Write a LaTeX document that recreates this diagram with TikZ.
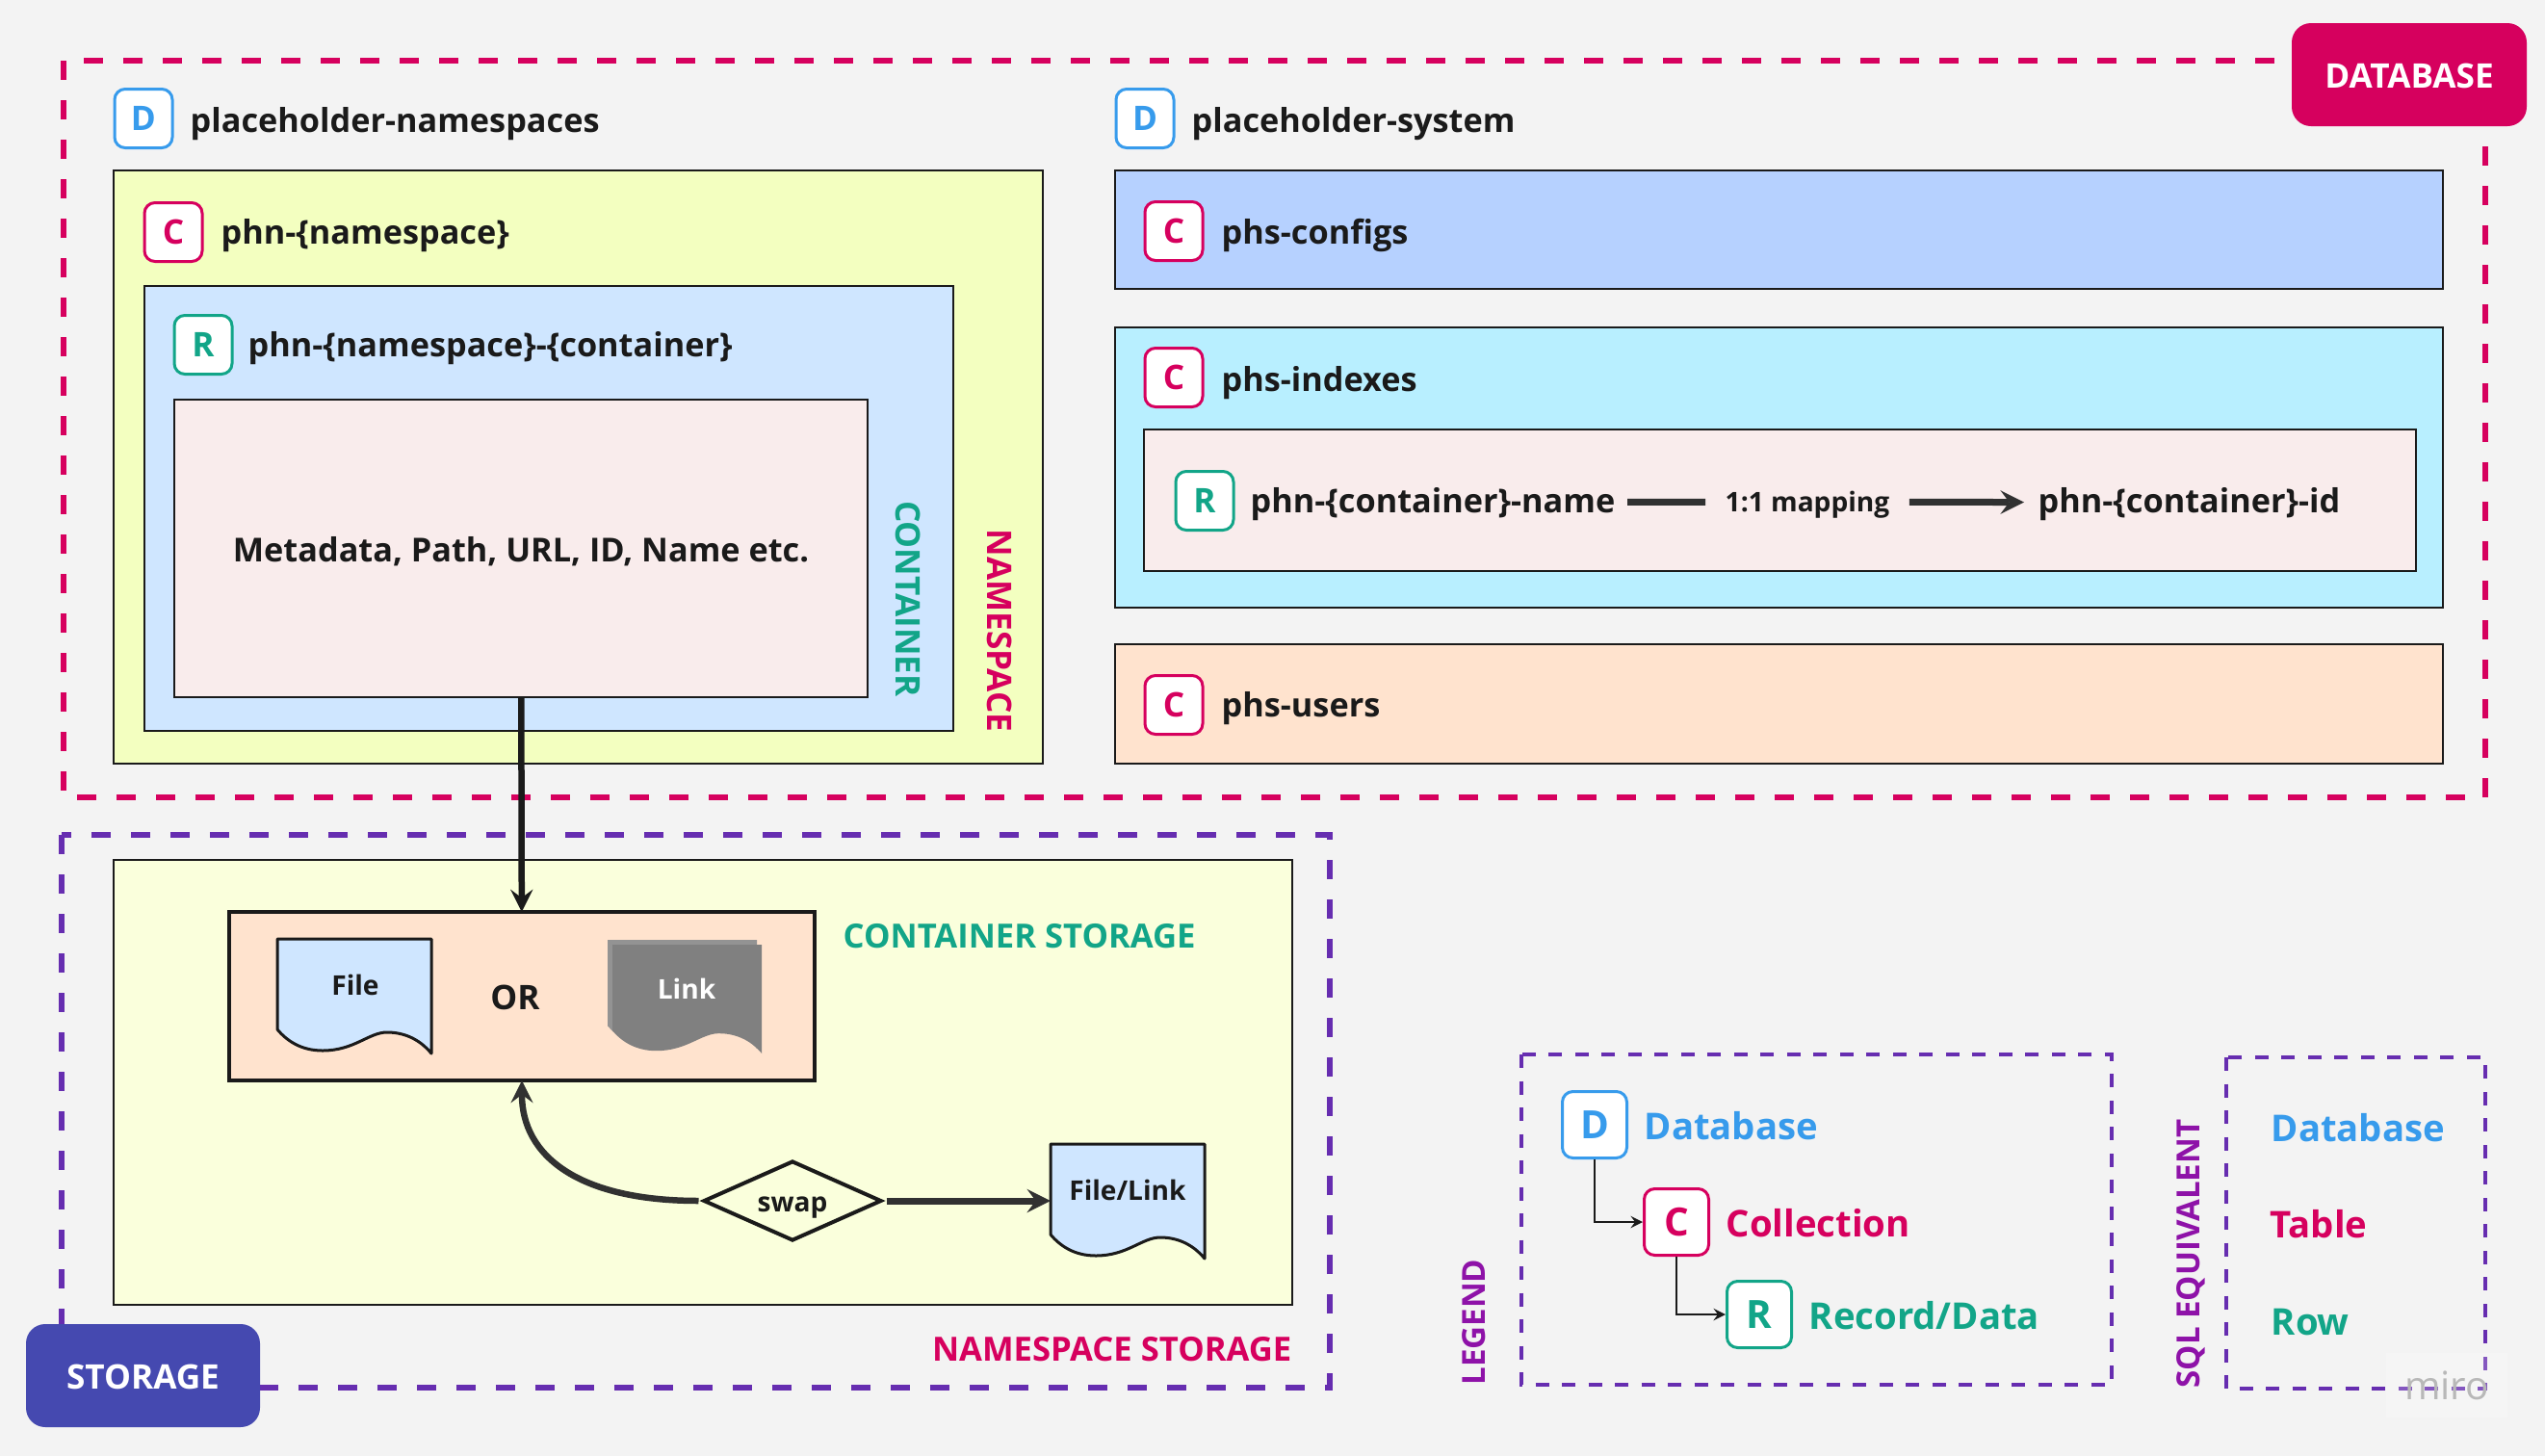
\documentclass[tikz,border=0pt]{standalone}
\usepackage{fontspec}
\setmainfont{Open Sans}
\usetikzlibrary{shapes.geometric, arrows}
\definecolor{pagegrey}{HTML}{F3F3F3}
\definecolor{dbpink}{HTML}{D6005E}
\definecolor{storeviolet}{HTML}{662DB0}
\definecolor{storeblue}{HTML}{4549B0}
\definecolor{sqlpurple}{HTML}{8E12A8}
\definecolor{iconblue}{HTML}{379BEC}
\definecolor{iconteal}{HTML}{12A588}
\definecolor{inkblack}{HTML}{1A1A1A}
\definecolor{nsyellow}{HTML}{F3FFC0}
\definecolor{ctblue}{HTML}{CFE6FF}
\definecolor{metarose}{HTML}{F9ECEC}
\definecolor{cfgblue}{HTML}{B6D1FF}
\definecolor{idxcyan}{HTML}{B8EFFF}
\definecolor{usrpeach}{HTML}{FFE3CE}
\definecolor{storeyellow}{HTML}{FAFFDC}
\definecolor{linkgrey}{HTML}{808080}
\tikzstyle{arrow} = [line width=.065cm,->,>=stealth,draw=inkblack]
\tikzstyle{softarrow} = [arrow,draw=inkblack!90]
\tikzstyle{thinarrow} = [line width=.02cm,->,>=stealth,draw=inkblack]
\tikzstyle{zone} = [line width=.06cm,dash pattern=on .2cm off .21cm]
\tikzstyle{legendzone} = [line width=.04cm,draw=storeviolet,dash pattern=on .14cm off .135cm]
\tikzstyle{box} = [rectangle,draw=inkblack,line width=.02cm,inner sep=0,outer sep=0]
\tikzstyle{tag} = [rectangle,rounded corners=.2cm,inner sep=0,minimum width=2.44cm,minimum height=1.07cm,text=white,text height=.285cm,text depth=0cm,font=\fontsize{10}{12}\selectfont\bfseries]
\tikzstyle{icon} = [rectangle,rounded corners=.11cm,fill=white,line width=.03cm,inner sep=0,minimum width=.6cm,minimum height=.61cm,font=\fontsize{10}{12}\selectfont\bfseries]
\tikzstyle{bigicon} = [icon,minimum width=.67cm,minimum height=.69cm,font=\fontsize{11.5}{14}\selectfont\bfseries]
\tikzstyle{title} = [inner sep=0,anchor=west,text=inkblack,font=\fontsize{9.75}{12}\selectfont\bfseries]
\tikzstyle{maplabel} = [title,text height=.3cm,text depth=.1cm]
\tikzstyle{caption} = [inner sep=0,font=\fontsize{9.85}{12}\selectfont\bfseries]
\tikzstyle{sidecaption} = [inner sep=0,rotate=-90,font=\fontsize{10}{12}\selectfont\bfseries]
\tikzstyle{upcaption} = [inner sep=0,rotate=90,text=sqlpurple,font=\fontsize{9.4}{12}\selectfont\bfseries]
\tikzstyle{legendtext} = [inner sep=0,anchor=west,font=\fontsize{10.9}{14}\selectfont\bfseries]
\tikzstyle{doctext} = [inner sep=0,text=inkblack,font=\fontsize{8}{10}\selectfont\bfseries]
\tikzset{docwave/.pic={
  \path[pic actions,line join=round] (0,0) -- (1.6,0) -- (1.6,-1.19) .. controls (1.47,-1.03) and (1.3,-.97) .. (1.14,-.97) .. controls (.95,-.97) and (.8,-1.16) .. (.47,-1.16) .. controls (.25,-1.16) and (.1,-1.06) .. (0,-.94) -- cycle;
}}
\begin{document}
\begin{tikzpicture}

\useasboundingbox (0,0) rectangle (26.43,-15.12);
\fill[pagegrey] (0,0) rectangle (26.43,-15.12);

% database

\draw[zone,draw=dbpink] (.66,-.63) rectangle (25.81,-8.28);
\node[tag,fill=dbpink] (database) at (25.02,-.775) {DATABASE};

\node[icon,draw=iconblue,text=iconblue] (ns_db) at (1.49,-1.23) {D};
\node[title] (ns_db_name) at (1.97,-1.29) {placeholder-namespaces};

\node[box,fill=nsyellow,minimum width=9.65cm,minimum height=6.16cm] (namespace) at (6.005,-4.85) {};
\node[icon,draw=dbpink,text=dbpink] (ns_coll) at (1.8,-2.41) {C};
\node[title] (ns_coll_name) at (2.29,-2.45) {phn-\{namespace\}};

\node[box,fill=ctblue,minimum width=8.4cm,minimum height=4.62cm] (container) at (5.7,-5.28) {};
\node[icon,draw=iconteal,text=iconteal] (ns_rec) at (2.11,-3.58) {R};
\node[title] (ns_rec_name) at (2.57,-3.62) {phn-\{namespace\}-\{container\}};

\node[box,fill=metarose,minimum width=7.2cm,minimum height=3.09cm,text=inkblack,text height=.3cm,text depth=.02cm,font=\fontsize{9.75}{12}\selectfont\bfseries] (meta) at (5.41,-5.695) {Metadata, Path, URL, ID, Name etc.};

\node[sidecaption,text=iconteal] (container_cap) at (9.43,-6.22) {CONTAINER};
\node[sidecaption,text=dbpink] (namespace_cap) at (10.38,-6.55) {NAMESPACE};

\node[icon,draw=iconblue,text=iconblue] (sys_db) at (11.89,-1.23) {D};
\node[title] (sys_db_name) at (12.37,-1.29) {placeholder-system};

\node[box,fill=cfgblue,minimum width=13.79cm,minimum height=1.23cm] (configs) at (18.475,-2.385) {};
\node[icon,draw=dbpink,text=dbpink] (configs_coll) at (12.19,-2.4) {C};
\node[title] (configs_name) at (12.68,-2.44) {phs-configs};

\node[box,fill=idxcyan,minimum width=13.79cm,minimum height=2.91cm] (indexes) at (18.475,-4.855) {};
\node[icon,draw=dbpink,text=dbpink] (indexes_coll) at (12.19,-3.92) {C};
\node[title] (indexes_name) at (12.68,-3.975) {phs-indexes};

\node[box,fill=metarose,minimum width=13.21cm,minimum height=1.47cm] (mapbox) at (18.485,-5.195) {};
\node[icon,draw=iconteal,text=iconteal] (map_rec) at (12.51,-5.2) {R};
\node[maplabel] (map_name) at (12.98,-5.22) {phn-\{container\}-name};
\node[maplabel,anchor=center,font=\fontsize{8}{10}\selectfont\bfseries] (map_mid) at (18.77,-5.21) {1:1 mapping};
\node[maplabel] (map_id) at (21.16,-5.22) {phn-\{container\}-id};

\draw [line width=.07cm,draw=inkblack!90,shorten <=.12cm,shorten >=.2cm] (map_name) -- (map_mid);
\draw [softarrow,line width=.07cm,shorten <=.2cm,shorten >=.14cm] (map_mid) -- (map_id);

\node[box,fill=usrpeach,minimum width=13.79cm,minimum height=1.24cm] (users) at (18.475,-7.31) {};
\node[icon,draw=dbpink,text=dbpink] (users_coll) at (12.19,-7.32) {C};
\node[title] (users_name) at (12.68,-7.36) {phs-users};

% storage

\draw[zone,draw=storeviolet] (.64,-8.67) rectangle (13.81,-14.41);
\node[tag,fill=storeblue,minimum width=2.43cm] (storage) at (1.485,-14.285) {STORAGE};

\node[box,fill=storeyellow,minimum width=12.24cm,minimum height=4.62cm] (nsstore) at (7.3,-11.24) {};
\node[box,fill=usrpeach,line width=.04cm,minimum width=6.08cm,minimum height=1.75cm] (cstore) at (5.42,-10.345) {};

\pic[draw=inkblack,fill=ctblue,line width=.03cm] at (2.88,-9.75) {docwave};
\node[doctext] (file) at (3.69,-10.23) {File};
\node[inner sep=0,text=inkblack,font=\fontsize{10}{12}\selectfont\bfseries] (or) at (5.35,-10.36) {OR};
\pic[fill=linkgrey!85,xscale=.97,yscale=.95] at (6.31,-9.76) {docwave};
\pic[fill=linkgrey,xscale=.97,yscale=.95] at (6.36,-9.81) {docwave};
\node[doctext,text=white] (link) at (7.13,-10.27) {Link};

\node[caption,anchor=west,text=iconteal] (cstore_cap) at (8.75,-9.72) {CONTAINER STORAGE};
\node[caption,anchor=east,text=dbpink] (nsstore_cap) at (13.42,-14.01) {NAMESPACE STORAGE};

\node[diamond,draw=inkblack,fill=storeyellow,line width=.04cm,inner sep=0,aspect=2.26,minimum width=1.85cm,minimum height=.83cm,text height=.22cm,text depth=0cm,font=\fontsize{8}{10}\selectfont\bfseries,text=inkblack] (swap) at (8.23,-12.47) {swap};

\pic[draw=inkblack,fill=ctblue,line width=.03cm] at (10.91,-11.88) {docwave};
\node[doctext] (filelink) at (11.71,-12.36) {File/Link};
\coordinate (filelink_in) at (10.91,-12.47);

\draw [arrow] (meta) -- (cstore);
\draw [softarrow,shorten <=.03cm] (swap.west) .. controls (6.0,-12.47) and (5.42,-12.0) .. (cstore.south);
\draw [softarrow,line width=.07cm,shorten <=.03cm] (swap.east) -- (filelink_in);

% legend

\draw[legendzone] (15.8,-10.95) rectangle (21.93,-14.38);
\node[upcaption] (legend_cap) at (15.31,-13.73) {LEGEND};

\node[bigicon,draw=iconblue,text=iconblue] (legend_d) at (16.56,-11.68) {D};
\node[legendtext,text=iconblue] (legend_db) at (17.07,-11.69) {Database};
\node[bigicon,draw=dbpink,text=dbpink] (legend_c) at (17.41,-12.69) {C};
\node[legendtext,text=dbpink] (legend_coll) at (17.92,-12.7) {Collection};
\node[bigicon,draw=iconteal,text=iconteal] (legend_r) at (18.27,-13.65) {R};
\node[legendtext,text=iconteal] (legend_rec) at (18.78,-13.66) {Record/Data};

\draw [thinarrow] (legend_d.south) |- (legend_c.west);
\draw [thinarrow] (legend_c.south) |- (legend_r.west);

% sql equivalent

\draw[legendzone] (23.12,-10.98) rectangle (25.81,-14.42);
\node[upcaption] (sql_cap) at (22.75,-13.02) {SQL EQUIVALENT};

\node[legendtext,text=iconblue] (sql_db) at (23.58,-11.71) {Database};
\node[legendtext,text=dbpink] (sql_table) at (23.57,-12.71) {Table};
\node[legendtext,text=iconteal] (sql_row) at (23.58,-13.73) {Row};

\node[fill=white,fill opacity=.2,text opacity=1,text=black!28,inner sep=0,minimum width=1.26cm,minimum height=.67cm,font=\fontsize{11.5}{14}\selectfont] (miro) at (25.41,-14.385) {miro};

\end{tikzpicture}
\end{document}
